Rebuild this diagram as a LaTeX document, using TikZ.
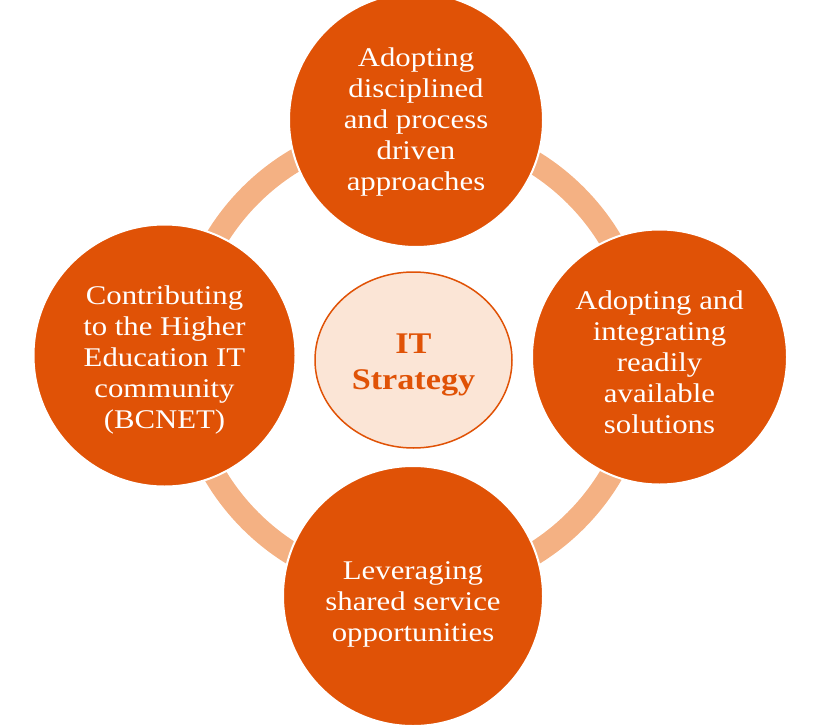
\documentclass[tikz,border=0pt]{standalone}
\usepackage{fontspec}
\setmainfont{Liberation Serif}[FakeStretch=1.14]
\usetikzlibrary{shapes.geometric}
\definecolor{darkor}{HTML}{E05206}
\definecolor{ringor}{HTML}{F4B183}
\definecolor{paleor}{HTML}{FBE5D6}
\tikzset{
  bigcirc/.style={circle, fill=darkor, draw=white, line width=2pt, inner sep=0pt},
  circtext/.style={text=white, align=center, font=\fontsize{27}{31}\selectfont},
  ringline/.style={draw=ringor, line width=23pt}
}
\begin{document}
\begin{tikzpicture}[x=1pt,y=-1pt]
\useasboundingbox (0,0) rectangle (822,725);
\coordinate (ringc) at (413,358);
\draw[ringline] (ringc) circle[radius=230];
\node[bigcirc, minimum size=254pt] (top) at (416,120) {};
\node[circtext] (toptext) at (416,122) {Adopting\\disciplined\\and process\\driven\\approaches};
\node[bigcirc, minimum size=255pt] (right) at (659.5,357) {};
\node[circtext] (righttext) at (659.5,362) {Adopting and\\integrating\\readily\\available\\solutions};
\node[bigcirc, minimum size=260pt] (bottom) at (413,596) {};
\node[circtext] (bottomtext) at (413,604) {Leveraging\\shared service\\opportunities};
\node[bigcirc, minimum size=262pt] (left) at (164.5,355.5) {};
\node[circtext] (lefttext) at (164.5,360) {Contributing\\to the Higher\\Education IT\\community\\(BCNET)};
\node[ellipse, fill=paleor, draw=darkor, line width=1.5pt, minimum width=197pt, minimum height=176pt] (center) at (413.5,360) {};
\node[text=darkor, align=center, font=\bfseries\fontsize{30}{36}\selectfont] (centertext) at (413.5,365) {IT\\Strategy};
\end{tikzpicture}
\end{document}
